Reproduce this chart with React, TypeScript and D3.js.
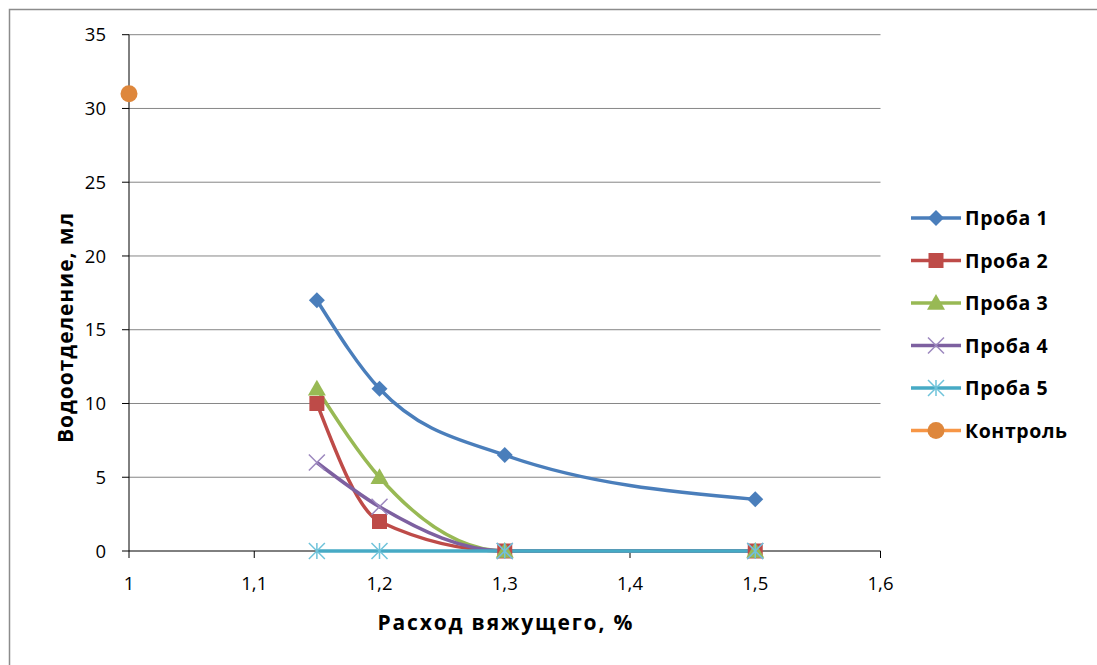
import React from "react";
import * as d3 from "d3";

// Binder consumption, %
const doses = [1.15, 1.2, 1.3, 1.5];
const probe1 = [17, 11, 6.5, 3.5];
const probe2 = [10, 2, 0, 0];
const probe3 = [11, 5, 0, 0];
const probe4 = [6, 3, 0, 0];
const probe5 = [0, 0, 0, 0];
const controlDose = [1];
const controlValue = [31];

const xTicks = [1, 1.1, 1.2, 1.3, 1.4, 1.5, 1.6];
const yTicks = [0, 5, 10, 15, 20, 25, 30, 35];

type Marker = "diamond" | "square" | "triangle" | "x" | "star" | "circle";
interface Series {
  name: string;
  xs: number[];
  ys: number[];
  line: string;
  fill: string;
  marker: Marker;
}

const series: Series[] = [
  { name: "Проба 1", xs: doses, ys: probe1, line: "#4A7EBB", fill: "#4A7EBB", marker: "diamond" },
  { name: "Проба 2", xs: doses, ys: probe2, line: "#BE4B48", fill: "#BE4B48", marker: "square" },
  { name: "Проба 3", xs: doses, ys: probe3, line: "#98B954", fill: "#98B954", marker: "triangle" },
  { name: "Проба 4", xs: doses, ys: probe4, line: "#7D60A0", fill: "#9C87BE", marker: "x" },
  { name: "Проба 5", xs: doses, ys: probe5, line: "#46AAC5", fill: "#6FC3DA", marker: "star" },
  { name: "Контроль", xs: controlDose, ys: controlValue, line: "#F79646", fill: "#DE873C", marker: "circle" },
];

const FONT = "'Open Sans', 'Noto Sans', 'DejaVu Sans', sans-serif";

function MarkerShape({ kind, cx, cy, color }: { kind: Marker; cx: number; cy: number; color: string }) {
  switch (kind) {
    case "diamond": {
      const r = 8;
      return <path d={`M${cx},${cy - r}L${cx + r},${cy}L${cx},${cy + r}L${cx - r},${cy}Z`} fill={color} />;
    }
    case "square":
      return <rect x={cx - 7.5} y={cy - 7.5} width={15} height={15} fill={color} />;
    case "triangle": {
      const r = 9;
      return <path d={`M${cx},${cy - r}L${cx + r},${cy + r * 0.75}L${cx - r},${cy + r * 0.75}Z`} fill={color} />;
    }
    case "x": {
      const r = 8;
      return (
        <path
          d={`M${cx - r},${cy - r}L${cx + r},${cy + r}M${cx - r},${cy + r}L${cx + r},${cy - r}`}
          stroke={color}
          strokeWidth={1.5}
          fill="none"
        />
      );
    }
    case "star": {
      const r = 8;
      return (
        <path
          d={`M${cx - r},${cy - r}L${cx + r},${cy + r}M${cx - r},${cy + r}L${cx + r},${cy - r}M${cx},${cy - r}L${cx},${cy + r}`}
          stroke={color}
          strokeWidth={1.5}
          fill="none"
        />
      );
    }
    case "circle":
      return <circle cx={cx} cy={cy} r={8.5} fill={color} />;
  }
}

export default function App() {
  const width = 1097;
  const height = 665;
  const left = 129;
  const right = 880.5;
  const top = 34.7;
  const bottom = 551;

  const x = d3.scaleLinear().domain([1, 1.6]).range([left, right]);
  const y = d3.scaleLinear().domain([0, 35]).range([bottom, top]);

  const line = d3
    .line<[number, number]>()
    .x((d) => x(d[0]))
    .y((d) => y(d[1]))
    .curve(d3.curveMonotoneX);

  const fmt = (v: number) => String(v).replace(".", ",");

  const legendX = 911;
  const legendY0 = 218;
  const legendStep = 42.5;

  return (
    <svg
      width={width}
      height={height}
      style={{ position: "absolute", left: 0, top: 0, display: "block" }}
      fontFamily={FONT}
    >
      <rect x={0} y={0} width={width} height={height} fill="#fff" />
      <rect x={9.5} y={9.5} width={width + 20} height={height + 20} fill="none" stroke="#8C8C8C" strokeWidth={1.5} />

      {/* horizontal gridlines */}
      {yTicks.filter((t) => t > 0).map((t) => (
        <line key={t} x1={left} x2={right} y1={y(t)} y2={y(t)} stroke="#868686" strokeWidth={1} />
      ))}

      {/* axes */}
      <line x1={left} x2={left} y1={top} y2={bottom} stroke="#000" strokeWidth={1} />
      <line x1={left} x2={right} y1={bottom} y2={bottom} stroke="#000" strokeWidth={1} />
      {yTicks.map((t) => (
        <g key={t}>
          <line x1={left - 7} x2={left} y1={y(t)} y2={y(t)} stroke="#000" />
          <text x={106} y={y(t)} dy="0.36em" textAnchor="end" fontSize={18.5} fill="#000">
            {fmt(t)}
          </text>
        </g>
      ))}
      {xTicks.map((t) => (
        <g key={t}>
          <line x1={x(t)} x2={x(t)} y1={bottom} y2={bottom + 7} stroke="#000" />
          <text x={x(t)} y={590} textAnchor="middle" fontSize={18.5} fill="#000">
            {fmt(t)}
          </text>
        </g>
      ))}

      {/* series lines */}
      {series.map((s) => (
        <path
          key={s.name + "-line"}
          d={line(s.xs.map((v, i) => [v, s.ys[i]] as [number, number])) || ""}
          fill="none"
          stroke={s.line}
          strokeWidth={3.5}
          strokeLinejoin="round"
        />
      ))}
      {/* series markers */}
      {series.map((s) => (
        <g key={s.name + "-markers"}>
          {s.xs.map((v, i) => (
            <MarkerShape key={i} kind={s.marker} cx={x(v)} cy={y(s.ys[i])} color={s.fill} />
          ))}
        </g>
      ))}

      {/* axis titles */}
      <text
        x={505}
        y={630}
        textAnchor="middle"
        fontSize={21}
        fontWeight="bold"
        fill="#000"
        textLength={255}
        lengthAdjust="spacing"
      >
        Расход вяжущего, %
      </text>
      <text
        transform={`translate(73,328) rotate(-90)`}
        textAnchor="middle"
        fontSize={21}
        fontWeight="bold"
        fill="#000"
        textLength={230}
        lengthAdjust="spacing"
      >
        Водоотделение, мл
      </text>

      {/* legend */}
      {series.map((s, i) => {
        const ly = legendY0 + i * legendStep;
        return (
          <g key={s.name + "-legend"}>
            <line x1={legendX} x2={legendX + 50} y1={ly} y2={ly} stroke={s.line} strokeWidth={3.5} />
            <MarkerShape kind={s.marker} cx={legendX + 25} cy={ly} color={s.fill} />
            <text x={legendX + 54} y={ly} dy="0.36em" fontSize={19.5} fontWeight="bold" fill="#000" letterSpacing={0.6}>
              {s.name}
            </text>
          </g>
        );
      })}
    </svg>
  );
}
